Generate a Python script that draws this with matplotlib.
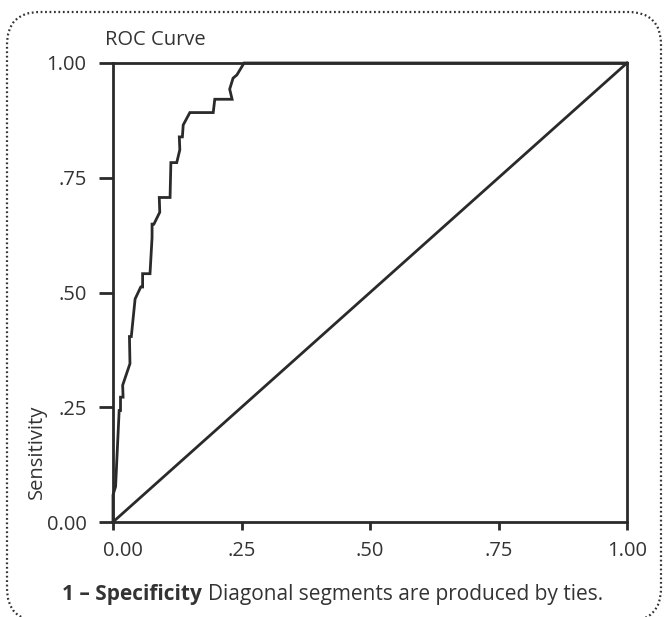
import matplotlib
matplotlib.use("Agg")
import matplotlib.pyplot as plt
import matplotlib.transforms as mtransforms
from matplotlib.patches import FancyBboxPatch

plt.rcParams['font.family'] = ['Open Sans', 'DejaVu Sans']

# ROC points (1 - specificity, sensitivity)
fpr = [0, 0, 0.005, 0.012, 0.0146, 0.0146, 0.0196, 0.0188, 0.033, 0.032,
       0.0356, 0.043, 0.054, 0.0576, 0.0576, 0.072, 0.076, 0.076, 0.0796,
       0.091, 0.090, 0.111, 0.1126, 0.124, 0.130, 0.129, 0.135, 0.1366,
       0.1495, 0.195, 0.198, 0.2317, 0.227, 0.2336, 0.241, 0.255, 1.0]
tpr = [0, 0.059, 0.077, 0.243, 0.243, 0.272, 0.272, 0.298, 0.345, 0.404,
       0.404, 0.486, 0.512, 0.512, 0.541, 0.541, 0.620, 0.649, 0.649,
       0.675, 0.707, 0.707, 0.783, 0.783, 0.811, 0.839, 0.839, 0.865,
       0.892, 0.892, 0.921, 0.921, 0.943, 0.967, 0.974, 1.0, 1.0]
ref_line = [0, 1]

ticks = [0, 0.25, 0.5, 0.75, 1.0]
tick_labels = ["0.00", ".25", ".50", ".75", "1.00"]

ink = "#2a2a2a"
txt = "#333333"
fs = 14.5

fig = plt.figure(figsize=(6.66, 6.17), dpi=100)
ax = fig.add_axes([113/666, 1 - 522/617, 514/666, 459/617])

ax.plot(fpr, tpr, color=ink, lw=2, solid_joinstyle="miter", clip_on=False)
ax.plot(ref_line, ref_line, color=ink, lw=2, clip_on=False)

ax.set_xlim(0, 1)
ax.set_ylim(0, 1)
ax.set_xticks(ticks)
ax.set_xticklabels(tick_labels)
ax.set_yticks(ticks)
ax.set_yticklabels(tick_labels)
for s in ax.spines.values():
    s.set_color(ink)
    s.set_linewidth(2)
ax.tick_params(axis="x", length=6, width=2, color=ink, labelsize=fs,
               labelcolor=txt, pad=8)
ax.tick_params(axis="y", length=10, width=2, color=ink, labelsize=fs,
               labelcolor=txt, pad=9)

# the first x label sits a little right of its tick in the original
first = ax.get_xticklabels()[0]
first.set_transform(first.get_transform() +
                    mtransforms.ScaledTranslation(0.1, 0, fig.dpi_scale_trans))

fig.text(105/666, 1 - 45/617, "ROC Curve", fontsize=fs, color=txt,
         ha="left", va="baseline")
fig.text(37/666, 1 - 452/617, "Sensitivity", fontsize=fs, color=txt,
         rotation=90, ha="center", va="center")

t1 = fig.text(62/666, 1 - 600/617, "1 \u2013 Specificity", fontsize=15,
              color=txt, fontweight="bold", ha="left", va="baseline")
fig.canvas.draw()
bb = t1.get_window_extent()
fig.text(bb.x1 / fig.bbox.width + 6/666, 1 - 600/617,
         "Diagonal segments are produced by ties.", fontsize=15,
         color=txt, ha="left", va="baseline")

# dotted rounded frame around everything
frame = FancyBboxPatch((0.07, -0.04), 6.54, 6.09,
                       boxstyle="round,pad=0,rounding_size=0.33",
                       transform=fig.dpi_scale_trans, fill=False,
                       ec=txt, lw=1.6, ls=(0, (0.8, 1.2)), clip_on=False)
fig.patches.append(frame)

fig.savefig("out.png", dpi=100)
